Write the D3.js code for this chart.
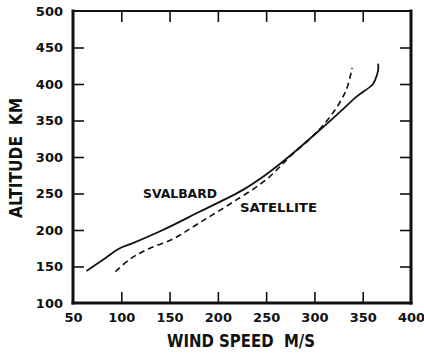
<!DOCTYPE html>
<html>
<head>
<meta charset="utf-8">
<script src="https://cdn.jsdelivr.net/npm/d3@7"></script>
<style>
  body { margin: 0; background: #fff; }
  text { font-family: "DejaVu Sans", Arial, sans-serif; font-weight: bold; fill: #111; }
</style>
</head>
<body>
<div id="chart"></div>
<script>
// wind speed (m/s) vs altitude (km)
const svalbardSpeed = [64, 83, 97, 112, 143, 181, 226, 250, 275, 309, 325, 344, 360, 363, 366, 366];
const svalbardAlt   = [144, 161, 174, 182, 200, 225, 255, 276, 302, 341, 360, 383, 399, 406, 419, 428];
const satelliteSpeed = [94, 109, 126, 154, 181, 213, 250, 275, 301, 320, 333, 339];
const satelliteAlt   = [143, 160, 173, 188, 210, 236, 269, 301, 332, 362, 392, 422];
const xTicks = [50, 100, 150, 200, 250, 300, 350, 400];
const yTicks = [100, 150, 200, 250, 300, 350, 400, 450, 500];

const width = 424, height = 353;
const margin = {top: 11, right: 13, bottom: 50, left: 73};

const svg = d3.select("#chart").append("svg")
  .attr("width", width)
  .attr("height", height);

const x = d3.scaleLinear().domain([50, 400]).range([margin.left, width - margin.right]);
const y = d3.scaleLinear().domain([100, 500]).range([height - margin.bottom, margin.top]);

const tickLen = 11;

// ticks on all four sides, pointing inward
const inner = (axis) => axis.tickSizeInner(-tickLen).tickSizeOuter(0);

const gx = svg.append("g")
  .attr("transform", `translate(0,${y(100)})`)
  .call(inner(d3.axisBottom(x).tickValues(xTicks)).tickPadding(10));
const gy = svg.append("g")
  .attr("transform", `translate(${x(50)},0)`)
  .call(inner(d3.axisLeft(y).tickValues(yTicks)).tickPadding(10));
const gt = svg.append("g")
  .attr("transform", `translate(0,${y(500)})`)
  .call(inner(d3.axisTop(x).tickValues(xTicks)).tickFormat(""));
const gr = svg.append("g")
  .attr("transform", `translate(${x(400)},0)`)
  .call(inner(d3.axisRight(y).tickValues(yTicks)).tickFormat(""));

[gx, gy, gt, gr].forEach(g => {
  g.select(".domain").remove();
  g.selectAll(".tick line").attr("stroke", "#111").attr("stroke-width", 1.6);
  g.selectAll(".tick text").style("font-size", "13px");
});
// no tick marks at the corners
gx.selectAll(".tick").filter(d => d === 50 || d === 400).select("line").remove();
gt.selectAll(".tick").filter(d => d === 50 || d === 400).select("line").remove();
gy.selectAll(".tick").filter(d => d === 100 || d === 500).select("line").remove();
gr.selectAll(".tick").filter(d => d === 100 || d === 500).select("line").remove();

// frame
const frame = svg.append("g").attr("stroke", "#111").attr("fill", "none").attr("stroke-linecap", "square");
frame.append("line").attr("x1", x(50)).attr("x2", x(400)).attr("y1", y(500)).attr("y2", y(500)).attr("stroke-width", 2);
frame.append("line").attr("x1", x(50)).attr("x2", x(400)).attr("y1", y(100)).attr("y2", y(100)).attr("stroke-width", 3);
frame.append("line").attr("x1", x(50)).attr("x2", x(50)).attr("y1", y(100)).attr("y2", y(500)).attr("stroke-width", 3);
frame.append("line").attr("x1", x(400)).attr("x2", x(400)).attr("y1", y(100)).attr("y2", y(500)).attr("stroke-width", 3);

const line = d3.line()
  .x(d => x(d[0]))
  .y(d => y(d[1]))
  .curve(d3.curveCatmullRom.alpha(0.5));

svg.append("path")
  .datum(d3.zip(svalbardSpeed, svalbardAlt))
  .attr("fill", "none")
  .attr("stroke", "#111")
  .attr("stroke-width", 1.8)
  .attr("d", line);

svg.append("path")
  .datum(d3.zip(satelliteSpeed, satelliteAlt))
  .attr("fill", "none")
  .attr("stroke", "#111")
  .attr("stroke-width", 1.6)
  .attr("stroke-dasharray", "6,4")
  .attr("d", line);

// curve labels
svg.append("text").attr("x", 143).attr("y", 198).style("font-size", "13px")
  .attr("textLength", 74).attr("lengthAdjust", "spacingAndGlyphs").text("SVALBARD");
svg.append("text").attr("x", 240).attr("y", 212).style("font-size", "13px")
  .attr("textLength", 77).attr("lengthAdjust", "spacingAndGlyphs").text("SATELLITE");

// axis titles
svg.append("text")
  .attr("x", 167).attr("y", 347)
  .style("font-size", "17px")
  .attr("xml:space", "preserve")
  .attr("textLength", 148).attr("lengthAdjust", "spacingAndGlyphs")
  .text("WIND SPEED  M/S");

svg.append("text")
  .attr("transform", `translate(22,218) rotate(-90)`)
  .style("font-size", "18px")
  .attr("xml:space", "preserve")
  .attr("textLength", 120).attr("lengthAdjust", "spacingAndGlyphs")
  .text("ALTITUDE  KM");
</script>
</body>
</html>
